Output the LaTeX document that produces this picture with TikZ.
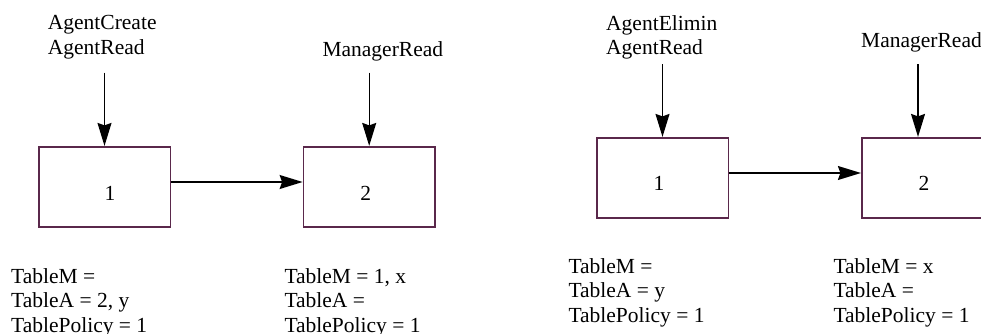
\documentclass[tikz,border=0pt]{standalone}
\usepackage{fontspec}
\setmainfont{Liberation Serif}
\usetikzlibrary{arrows.meta}
\definecolor{boxc}{RGB}{90,40,75}
\begin{document}
\begin{tikzpicture}[x=1pt,y=-1pt,
  box/.style={draw=boxc, line width=1.6pt, minimum width=131.6pt, minimum height=80.3pt, inner sep=0pt},
  lbl/.style={font=\fontsize{21.5}{24.7}\selectfont, align=left, anchor=north west, inner sep=0pt},
  num/.style={font=\fontsize{21.5}{24.7}\selectfont, anchor=base, inner sep=0pt},
  arr/.style={-{Stealth[length=23pt,width=14pt,inset=2.5pt]}, line width=1.4pt}]
\useasboundingbox (0,0) rectangle (981,334);
% left panel
\node[box] (b1) at (104.5,186.85) {};
\node[box] (b2) at (369.2,186.85) {};
\node[num] (n1) at (110,200) {1};
\node[num] (n2) at (365.7,200) {2};
\node[lbl] (l1) at (47.7,15.1) {AgentCreate\\AgentRead};
\node[lbl] (l2) at (322.3,41.3) {ManagerRead};
\node[lbl] (l3) at (11,268) {TableM =\\TableA = 2, y\\TablePolicy = 1};
\node[lbl] (l4) at (284.3,268) {TableM = 1, x\\TableA =\\TablePolicy = 1};
\coordinate (s1) at (104.5,72.7);
\coordinate (s2) at (369.2,72.7);
\draw[arr] (s1) -- (b1.north);
\draw[arr] (s2) -- (b2.north);
\draw[arr] ([yshift=4.85pt]b1.east) -- ([yshift=4.85pt]b2.west);
% right panel
\node[box] (b3) at (662.5,177.85) {};
\node[box] (b4) at (927.5,177.85) {};
\node[num] (n3) at (659,190.7) {1};
\node[num] (n4) at (924,190.7) {2};
\node[lbl] (r1) at (606,15.1) {AgentElimin\\AgentRead};
\node[lbl] (r2) at (861,32) {ManagerRead};
\node[lbl] (r3) at (568.3,258) {TableM =\\TableA = y\\TablePolicy = 1};
\node[lbl] (r4) at (833.3,258) {TableM = x\\TableA =\\TablePolicy = 1};
\coordinate (s3) at (662.5,64.3);
\coordinate (s4) at (918,64.3);
\draw[arr] (s3) -- (b3.north);
\draw[arr] (s4) -- (s4 |- b4.north);
\draw[arr] ([yshift=4.85pt]b3.east) -- ([yshift=4.85pt]b4.west);
\end{tikzpicture}
\end{document}
